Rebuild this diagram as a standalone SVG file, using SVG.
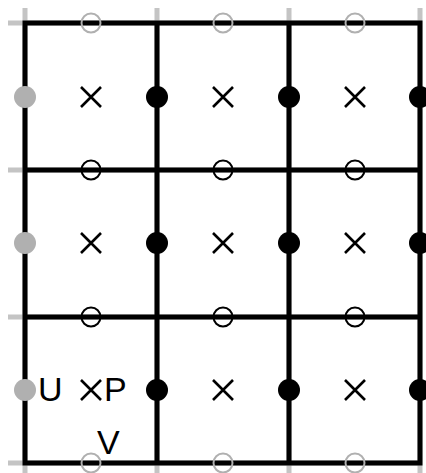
<svg xmlns="http://www.w3.org/2000/svg" width="426" height="473" viewBox="0 0 426 473">
<style>
.stub{stroke:#c4c4c4;stroke-width:5;fill:none}
.grid{stroke:#000;stroke-width:5;fill:none;stroke-linecap:square}
.oc{fill:none;stroke:#000;stroke-width:2}
.og{fill:none;stroke:#b0b0b0;stroke-width:2}
.fd{fill:#000}
.fg{fill:#b0b0b0}
.x{stroke:#000;stroke-width:2.6;fill:none}
.t{font-family:"Liberation Sans",Arial,sans-serif;font-size:34px;fill:#000}
</style>
<rect width="426" height="473" fill="#fff"/>
<g id="connectors">
<path class="stub" d="M25 8V473M157 8V473M289 8V473M420 8V473M8 23H420M8 170H420M8 317H420M8 463H420"/>
<path class="grid" d="M25 23V463M157 23V463M289 23V463M420 23V463M25 23H420M25 170H420M25 317H420M25 463H420"/>
</g>
<g id="edge-circles">
<circle class="og" cx="91" cy="23" r="9.5"/><circle class="og" cx="223" cy="23" r="9.5"/><circle class="og" cx="355" cy="23" r="9.5"/>
<circle class="oc" cx="91" cy="170" r="9.5"/><circle class="oc" cx="223" cy="170" r="9.5"/><circle class="oc" cx="355" cy="170" r="9.5"/>
<circle class="oc" cx="91" cy="317" r="9.5"/><circle class="oc" cx="223" cy="317" r="9.5"/><circle class="oc" cx="355" cy="317" r="9.5"/>
<circle class="og" cx="91" cy="463" r="9.5"/><circle class="og" cx="223" cy="463" r="9.5"/><circle class="og" cx="355" cy="463" r="9.5"/>
</g>
<g id="dots">
<circle class="fg" cx="25" cy="97" r="11"/><circle class="fd" cx="157" cy="97" r="11"/><circle class="fd" cx="289" cy="97" r="11"/><circle class="fd" cx="420" cy="97" r="11"/>
<circle class="fg" cx="25" cy="243" r="11"/><circle class="fd" cx="157" cy="243" r="11"/><circle class="fd" cx="289" cy="243" r="11"/><circle class="fd" cx="420" cy="243" r="11"/>
<circle class="fg" cx="25" cy="390" r="11"/><circle class="fd" cx="157" cy="390" r="11"/><circle class="fd" cx="289" cy="390" r="11"/><circle class="fd" cx="420" cy="390" r="11"/>
</g>
<g id="crosses">
<path class="x" d="M81 87l20 20M101 87l-20 20M213 87l20 20M233 87l-20 20M345 87l20 20M365 87l-20 20"/>
<path class="x" d="M81 233l20 20M101 233l-20 20M213 233l20 20M233 233l-20 20M345 233l20 20M365 233l-20 20"/>
<path class="x" d="M81 380l20 20M101 380l-20 20M213 380l20 20M233 380l-20 20M345 380l20 20M365 380l-20 20"/>
</g>
<g id="labels">
<text class="t" x="38" y="401">U</text>
<text class="t" x="104" y="401">P</text>
<text class="t" x="97" y="454">V</text>
</g>
</svg>
